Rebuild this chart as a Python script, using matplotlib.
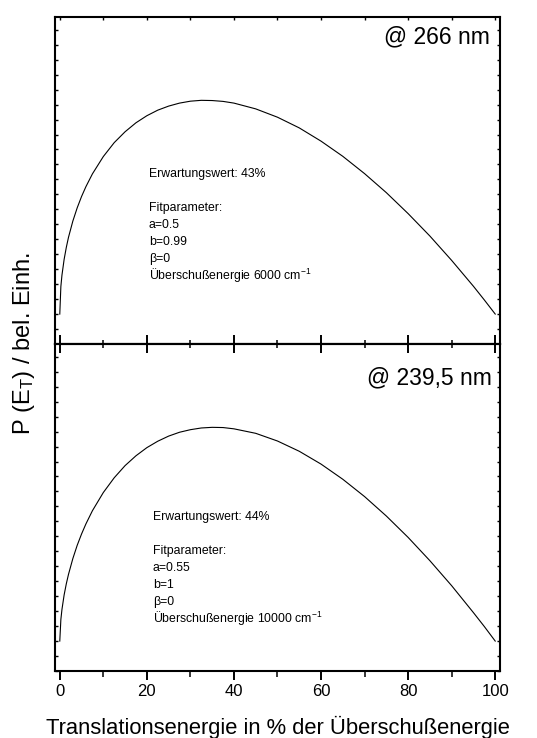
"""Translational energy distributions P(E_T) at 266 nm and 239.5 nm."""

import matplotlib

matplotlib.use("Agg")
import matplotlib.pyplot as plt
from matplotlib.ticker import MultipleLocator

plt.rcParams["font.family"] = ["Liberation Sans", "DejaVu Sans"]
plt.rcParams["mathtext.default"] = "regular"

# x in % of the excess energy (normalised to peak)
energy_pct = [0, 0.25, 0.5, 1, 1.5, 2, 3, 4, 5, 6, 7.5, 10, 12.5, 15, 17.5, 20,
              22.5, 25, 27.5, 30, 32.5, 35, 37.5, 40, 45, 50, 55, 60, 65, 70,
              75, 80, 85, 90, 95, 97.5, 100]
p_266 = [0.0, 0.129, 0.182, 0.256, 0.312, 0.359, 0.435, 0.497, 0.550, 0.596,
         0.656, 0.737, 0.802, 0.853, 0.895, 0.928, 0.954, 0.973, 0.987, 0.996,
         1.000, 0.999, 0.995, 0.987, 0.960, 0.921, 0.871, 0.809, 0.738, 0.657,
         0.568, 0.470, 0.365, 0.251, 0.130, 0.066, 0.0]
p_2395 = [0.0, 0.101, 0.148, 0.216, 0.268, 0.312, 0.386, 0.448, 0.501, 0.548,
          0.610, 0.695, 0.764, 0.821, 0.867, 0.905, 0.935, 0.959, 0.977, 0.989,
          0.997, 1.000, 0.999, 0.993, 0.972, 0.936, 0.888, 0.828, 0.757, 0.676,
          0.585, 0.485, 0.376, 0.259, 0.133, 0.068, 0.0]

panel_titles = ["@ 266 nm", "@ 239,5 nm"]
panel_notes = [
    ["Erwartungswert: 43%", "", "Fitparameter:", "a=0.5", "b=0.99", "β=0",
     "Überschußenergie 6000 cm$^{-1}$"],
    ["Erwartungswert: 44%", "", "Fitparameter:", "a=0.55", "b=1", "β=0",
     "Überschußenergie 10000 cm$^{-1}$"],
]
x_ticks = [0, 20, 40, 60, 80, 100]


def style_axes(ax, top_panel):
    ax.set_xlim(-1.1, 101.1)
    ax.set_ylim(-0.14, 1.39)
    for sp in ax.spines.values():
        sp.set_linewidth(1.5)
    ax.set_xticks(x_ticks)
    ax.xaxis.set_minor_locator(MultipleLocator(10))
    ax.yaxis.set_major_locator(MultipleLocator(0.07))
    ax.tick_params(axis="y", which="both", direction="in", length=2.2, width=1,
                   left=True, right=True, labelleft=False)
    if top_panel:
        ax.tick_params(axis="x", which="major", direction="in", length=6.5, width=1.4,
                       bottom=True, top=True, labelbottom=False)
        ax.tick_params(axis="x", which="minor", direction="in", length=3.2, width=1.1,
                       bottom=True, top=True)
        # the top edge only carries tiny ticks
        for t in ax.xaxis.get_major_ticks() + ax.xaxis.get_minor_ticks():
            t.tick2line.set_markersize(2)
            t.tick2line.set_markeredgewidth(1)
    else:
        ax.tick_params(axis="x", which="major", direction="out", length=6.5, width=1.4,
                       bottom=True, top=False, labelsize=12, pad=3)
        ax.tick_params(axis="x", which="minor", direction="out", length=4, width=1.1,
                       bottom=True, top=False)
        # inward ticks on the shared middle line
        sec = ax.secondary_xaxis("top")
        sec.set_xticks(x_ticks)
        sec.xaxis.set_minor_locator(MultipleLocator(10))
        sec.tick_params(which="major", direction="in", length=6.5, width=1.4,
                        labeltop=False)
        sec.tick_params(which="minor", direction="in", length=3.2, width=1.1)
        sec.spines["top"].set_linewidth(1.5)


def main():
    fig = plt.figure(figsize=(5.37, 7.38), dpi=100)
    ax_top = fig.add_axes([0.1024, 0.5339, 0.8287, 0.4431])
    ax_bot = fig.add_axes([0.1024, 0.0908, 0.8287, 0.4431])

    ax_top.plot(energy_pct, p_266, color="black", linewidth=0.8)
    ax_bot.plot(energy_pct, p_2395, color="black", linewidth=0.8)

    style_axes(ax_top, True)
    style_axes(ax_bot, False)

    ax_top.text(0.978, 0.939, panel_titles[0], transform=ax_top.transAxes,
                ha="right", va="center", fontsize=16.5)
    ax_bot.text(0.982, 0.896, panel_titles[1], transform=ax_bot.transAxes,
                ha="right", va="center", fontsize=16.5)

    step = 17 / 327
    for ax, notes, x0, y0 in [(ax_top, panel_notes[0], 0.211, 0.520),
                              (ax_bot, panel_notes[1], 0.220, 0.471)]:
        for i, line in enumerate(notes):
            if line:
                ax.text(x0, y0 - i * step, line, transform=ax.transAxes,
                        ha="left", va="center", fontsize=8.8)

    fig.text(0.5168, 4 / 738, "Translationsenergie in % der Überschußenergie",
             ha="center", va="baseline", fontsize=15.8)
    fig.text(24 / 537, 1 - 344 / 738, "P (E$_T$) / bel. Einh.",
             rotation=90, ha="center", va="center", fontsize=17)

    fig.savefig("out.png", dpi=100)


if __name__ == "__main__":
    main()
